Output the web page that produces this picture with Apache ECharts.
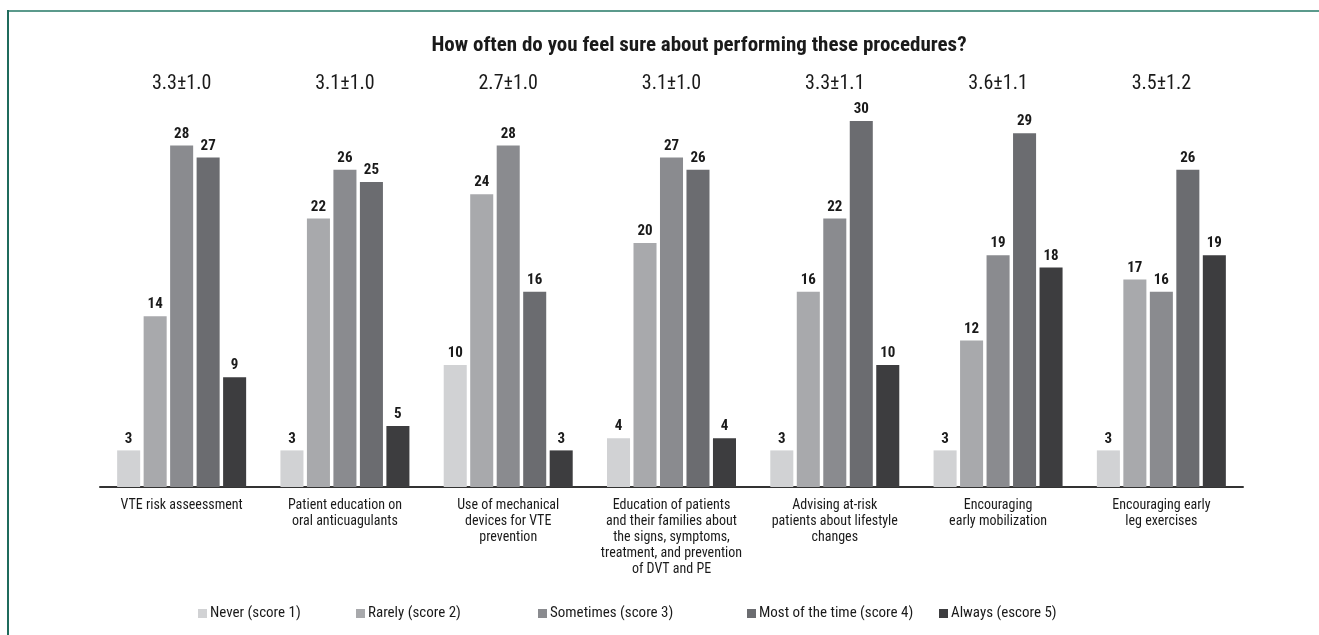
<!DOCTYPE html>
<html>
<head>
<meta charset="utf-8">
<script src="https://cdn.jsdelivr.net/npm/echarts@6/dist/echarts.min.js"></script>
<style>
html,body{margin:0;padding:0;background:#fff;}
#chart{width:1319px;height:635px;}
</style>
</head>
<body>
<div id="chart"></div>
<script>
const categories = [
  "VTE risk asseessment",
  "Patient education on\noral anticuagulants",
  "Use of mechanical\ndevices for VTE\nprevention",
  "Education of patients\nand their families about\nthe signs, symptoms,\ntreatment, and prevention\nof DVT and PE",
  "Advising at-risk\npatients about lifestyle\nchanges",
  "Encouraging\nearly mobilization",
  "Encouraging early\nleg exercises"
];
const meanLabels = ["3.3±1.0","3.1±1.0","2.7±1.0","3.1±1.0","3.3±1.1","3.6±1.1","3.5±1.2"];
const seriesNames = ["Never (score 1)","Rarely (score 2)","Sometimes (score 3)","Most of the time (score 4)","Always (escore 5)"];
const never = [3,3,10,4,3,3,3];
const rarely = [14,22,24,20,16,12,17];
const sometimes = [28,26,28,27,22,19,16];
const mostOfTime = [27,25,16,26,30,29,26];
const always = [9,5,3,4,10,18,19];
const titleText = "How often do you feel sure about performing these procedures?";

const colors = ["#d1d2d4","#a8a9ac","#8a8b8f","#6b6c70","#3d3d3f"];
const values = [never, rarely, sometimes, mostOfTime, always];
const FONT = "'Liberation Sans Narrow', 'Roboto Condensed', 'Arial Narrow', 'Liberation Sans', sans-serif";
const legendLeft = [193, 351, 533, 742, 934];

const chart = echarts.init(document.getElementById('chart'));
chart.setOption({
  backgroundColor: '#fff',
  animation: false,
  textStyle: { fontFamily: FONT },
  title: {
    text: titleText,
    left: 694, top: 30, textAlign: 'center',
    textStyle: { fontFamily: FONT, fontSize: 21, fontWeight: 'bold', color: '#1a1a1a' }
  },
  legend: seriesNames.map((n, i) => ({
    data: [n], left: legendLeft[i], top: 601,
    itemWidth: 9, itemHeight: 9, itemGap: 0,
    icon: 'rect',
    textStyle: { fontFamily: FONT, fontSize: 15, color: '#1a1a1a', padding: [0,0,0,-2] }
  })),
  grid: { left: 100, right: 76, top: 121, bottom: 148, containLabel: false },
  xAxis: [{
    type: 'category', data: categories,
    axisLine: { lineStyle: { color: '#333', width: 2 } },
    axisTick: { show: false },
    axisLabel: { interval: 0, margin: 10, fontFamily: FONT, fontSize: 14, lineHeight: 16, color: '#1a1a1a', align: 'center' }
  }, {
    type: 'category', data: meanLabels, position: 'top',
    axisLine: { show: false }, axisTick: { show: false },
    axisLabel: { interval: 0, margin: 0, fontFamily: FONT, fontSize: 20, color: '#1a1a1a' },
    offset: 27
  }],
  yAxis: { type: 'value', min: 0, max: 30, show: false, splitLine: { show: false } },
  series: seriesNames.map((n, i) => ({
    name: n, type: 'bar', data: values[i],
    barGap: '15%', barCategoryGap: '21%',
    itemStyle: { color: colors[i] },
    label: { show: true, position: 'top', distance: 4, fontFamily: FONT, fontSize: 15, fontWeight: 'bold', color: '#1a1a1a' }
  })),
  graphic: [
    { type: 'line', shape: { x1: 8, y1: 11, x2: 1319, y2: 11 }, style: { stroke: '#5b9a8c', lineWidth: 2 } },
    { type: 'line', shape: { x1: 8, y1: 10, x2: 8, y2: 635 }, style: { stroke: '#1f6b5c', lineWidth: 2 } }
  ]
});
</script>
</body>
</html>
